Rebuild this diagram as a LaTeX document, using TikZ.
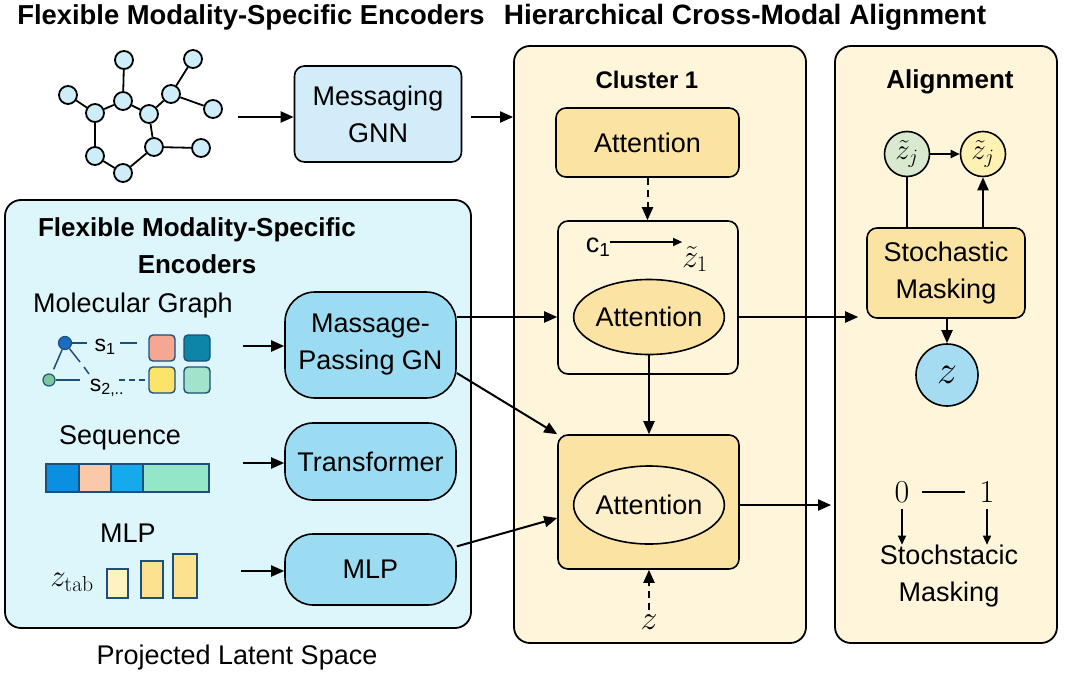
\RequirePackage{fix-cm}
\documentclass[tikz,border=0pt]{standalone}
\usepackage[no-math]{fontspec}
\setmainfont{Liberation Sans}
\usetikzlibrary{arrows.meta,shapes.geometric,calc}
\definecolor{panelblue}{HTML}{DCF6FB}
\definecolor{gnnblue}{HTML}{D2ECFA}
\definecolor{encblue}{HTML}{9CDCF2}
\definecolor{cream}{HTML}{FEF5DA}
\definecolor{attn}{HTML}{FBE3A4}
\definecolor{attnlight}{HTML}{FDEFC9}
\definecolor{molnode}{HTML}{CDEEF8}
\definecolor{navy}{HTML}{1D4F7A}
\definecolor{greencirc}{HTML}{D8E9D0}
\definecolor{yellowcirc}{HTML}{FEF1B4}
\definecolor{zblue}{HTML}{A6DCF1}
\definecolor{sqpink}{HTML}{F6A792}
\definecolor{sqteal}{HTML}{0C85A8}
\definecolor{sqyellow}{HTML}{FCE46A}
\definecolor{sqmint}{HTML}{A2E3CB}
\definecolor{seqA}{HTML}{0B8FE0}
\definecolor{seqB}{HTML}{F9C9A9}
\definecolor{seqC}{HTML}{14AAEB}
\definecolor{seqD}{HTML}{94E6C9}
\definecolor{barA}{HTML}{FEF2C2}
\definecolor{barB}{HTML}{FCE290}
\definecolor{nodeblue}{HTML}{1C6CC2}
\definecolor{nodegreen}{HTML}{7FC6A0}
\newcommand\myfont{\fontsize{27}{37}\selectfont}
\newcommand\mytitle{\fontsize{28}{34}\selectfont\bfseries}
\tikzset{
  panel/.style={draw=black, line width=1.8pt, rounded corners=16pt, inner sep=0pt},
  rbox/.style={draw=black, line width=1.6pt, rounded corners=10pt, inner sep=0pt, align=center, font=\myfont},
  pill/.style={draw=black, line width=1.6pt, rounded corners=28pt, fill=encblue, inner sep=0pt, align=center, font=\myfont},
  arr/.style={-{Triangle[length=13pt,width=11pt]}, line width=2pt},
  smallarr/.style={-{Triangle[length=9pt,width=8pt]}, line width=1.4pt},
  dsh/.style={dash pattern=on 7pt off 5pt},
  mnode/.style={circle, draw=black, line width=1.8pt, fill=molnode, minimum size=18pt, inner sep=0pt},
  medge/.style={line width=1.8pt},
  txt/.style={inner sep=0pt, align=center, font=\myfont},
  sq/.style={draw=navy, line width=1.4pt, rounded corners=4pt, minimum size=26pt, inner sep=0pt},
  seg/.style={draw=navy, line width=1.3pt},
  ell/.style={ellipse, draw=black, line width=1.6pt, inner sep=0pt, font=\myfont},
}
\begin{document}
\begin{tikzpicture}[x=1pt,y=-1pt]
\useasboundingbox (0,0) rectangle (1065,680);
\fill[white] (0,0) rectangle (1065,680);

% titles
\node[txt, font=\fontsize{27.4}{34}\selectfont\bfseries] (title1) at (251,17) {Flexible Modality-Specific Encoders};
\node[txt, font=\mytitle] (title2) at (745,17) {Hierarchical Cross-Modal Alignment};

% molecule graph
\node[mnode] (m1) at (124,60) {};
\node[mnode] (m2) at (193,59) {};
\node[mnode] (m3) at (68,95) {};
\node[mnode] (m4) at (123,101) {};
\node[mnode] (m5) at (95,113) {};
\node[mnode] (m6) at (149,114) {};
\node[mnode] (m7) at (171,94) {};
\node[mnode] (m8) at (213,109) {};
\node[mnode] (m9) at (95,156) {};
\node[mnode] (m10) at (154,147) {};
\node[mnode] (m11) at (201,148) {};
\node[mnode] (m12) at (123,173) {};
\foreach \a/\b in {m1/m4,m4/m5,m5/m3,m4/m6,m6/m7,m7/m2,m7/m8,m6/m10,m10/m11,m10/m12,m12/m9,m9/m5}
  \draw[medge] (\a) -- (\b);

% messaging GNN
\node[rbox, fill=gnnblue, minimum width=167pt, minimum height=96pt] (gnn) at (378,114) {Messaging\\GNN};
\coordinate (gstart) at (238,117);
\draw[arr] (gstart) -- (gstart -| gnn.west);

% panels
\node[panel, fill=panelblue, minimum width=466pt, minimum height=428pt] (left) at (238,414) {};
\node[panel, fill=cream, minimum width=292pt, minimum height=597pt] (cluster) at (660,344.5) {};
\node[panel, fill=cream, minimum width=222pt, minimum height=597pt] (align) at (946,344.5) {};

\draw[arr, shorten <=9pt] (gnn.east |- gstart) -- (gstart -| cluster.west);

% left panel contents
\node[txt, font=\fontsize{26}{37}\selectfont\bfseries] (lt) at (197,246) {Flexible Modality-Specific\\Encoders};
\node[txt] (molg) at (133,306) {Molecular Graph};
\node[txt] (seql) at (120,438) {Sequence};
\node[txt] (mlpl) at (128,533) {MLP};
\node[txt] (proj) at (237,658) {Projected Latent Space};

% small graph
\node[circle, draw=navy, line width=1.2pt, fill=nodeblue, minimum size=13pt, inner sep=0pt] (bn) at (65,343) {};
\node[circle, draw=navy!80!teal, line width=1.2pt, fill=nodegreen, minimum size=12pt, inner sep=0pt] (gn) at (49,380) {};
\node[txt, font=\fontsize{23}{26}\selectfont] (s1) at (105,347) {s\textsubscript{1}};
\node[txt, font=\fontsize{23}{26}\selectfont] (s2) at (107,388) {s\textsubscript{2,..}};
\node[sq, fill=sqpink] (q1) at (162,348) {};
\node[sq, fill=sqteal] (q2) at (197,348) {};
\node[sq, fill=sqyellow] (q3) at (162,380) {};
\node[sq, fill=sqmint] (q4) at (197,380) {};
\draw[line width=1.5pt, navy] (bn.east) -- ++(15,0);
\draw[line width=1.5pt, navy] (120,343) -- (137,343);
\draw[line width=1.5pt, navy, shorten >=5pt] (bn) -- (gn);
\draw[line width=1.5pt, navy] (bn) -- (80,362);
\draw[line width=1.5pt, navy] (84,367) -- (89,374);
\draw[line width=1.5pt, navy] (gn.east) -- (80,380);
\draw[line width=1.5pt, navy, dash pattern=on 6pt off 4pt] (119,380) -- (q3.west);

% sequence bar
\node[seg, fill=seqA, minimum width=33pt, minimum height=28pt, inner sep=0pt] (sa) at (62.5,478) {};
\node[seg, fill=seqB, minimum width=32pt, minimum height=28pt, inner sep=0pt] (sb) at (95,478) {};
\node[seg, fill=seqC, minimum width=32pt, minimum height=28pt, inner sep=0pt] (sc) at (127,478) {};
\node[seg, fill=seqD, minimum width=66pt, minimum height=28pt, inner sep=0pt] (sd) at (176,478) {};

% bars
\node[txt, font=\fontsize{31}{34}\selectfont] (ztab) at (72,582) {$z_{\mathrm{tab}}$};
\draw[seg, line width=1.5pt, fill=barA] (107,569) rectangle (128,598);
\draw[seg, line width=1.5pt, fill=barB] (141,561) rectangle (163,598);
\draw[seg, line width=1.5pt, fill=barB] (173,554) rectangle (197,598);

% encoders
\node[pill, minimum width=171pt, minimum height=106pt, rounded corners=30pt] (mpgn) at (370.5,345) {Massage-\\Passing GN};
\node[pill, minimum width=171pt, minimum height=77pt] (trans) at (370.5,461.5) {Transformer};
\node[pill, minimum width=171pt, minimum height=71pt] (mlp) at (370.5,569.5) {MLP};
\coordinate (a1) at (243,346);
\coordinate (a2) at (243,463);
\coordinate (a3) at (241,571);
\draw[arr] (a1) -- (a1 -| mpgn.west);
\draw[arr] (a2) -- (a2 -| trans.west);
\draw[arr] (a3) -- (a3 -| mlp.west);

% cluster contents
\node[txt, font=\fontsize{24}{28}\selectfont\bfseries] (cl) at (647,80) {Cluster 1};
\node[rbox, fill=attn, minimum width=183pt, minimum height=69pt] (attn1) at (647.5,142.5) {Attention};
\node[rbox, fill=cream, minimum width=180pt, minimum height=153pt] (midbox) at (648,297.5) {};
\node[ell, fill=attn, minimum width=138pt, minimum height=75pt] (ell1) at (649,317) {Attention};
\node[txt, font=\fontsize{27}{30}\selectfont] (c1) at (598,247) {c\textsubscript{1}};
\node[txt, font=\fontsize{32}{34}\selectfont] (zt1) at (695,259) {$\tilde{z}_1$};
\draw[smallarr, line width=1.3pt] ([yshift=5pt]c1.east) -- ([yshift=5pt]c1.east -| zt1.west);
\node[rbox, fill=attn, minimum width=181pt, minimum height=134pt] (botbox) at (648.5,502) {};
\node[ell, fill=attnlight, minimum width=141pt, minimum height=78pt] (ell2) at (649,505) {Attention};
\node[txt, font=\fontsize{34}{38}\selectfont] (zb) at (649,622) {$z$};

\draw[arr, dsh] (attn1.south) -- (attn1.south |- midbox.north);
\draw[arr] (ell1.south) -- (ell1.south |- botbox.north);
\draw[arr, dsh, shorten <=4pt] (zb.north) -- (zb.north |- botbox.south);
\draw[arr] (mpgn.east |- ell1) -- (midbox.west |- ell1);
\draw[arr] (mpgn.-18) -- (botbox.north west);
\draw[arr] (mlp.15) -- ([yshift=-16pt]botbox.west);

% alignment contents
\node[txt, font=\fontsize{26}{30}\selectfont\bfseries] (al) at (950,82) {Alignment};
\node[circle, draw=black, line width=1.6pt, fill=greencirc, minimum size=45pt, inner sep=0pt, font=\fontsize{29}{32}\selectfont] (zj1) at (907,154) {$\tilde{z}_j$};
\node[circle, draw=black, line width=1.6pt, fill=yellowcirc, minimum size=45pt, inner sep=0pt, font=\fontsize{29}{32}\selectfont] (zj2) at (983,154) {$\tilde{z}_j$};
\node[rbox, fill=attn, minimum width=158pt, minimum height=90pt] (stoch) at (946,273) {Stochastic\\Masking};
\node[circle, draw=black, line width=1.6pt, fill=zblue, minimum size=62pt, inner sep=0pt, font=\fontsize{40}{44}\selectfont] (zc) at (947,375) {$z$};
\draw[smallarr, line width=1.8pt] (zj1) -- (zj2);
\draw[line width=1.8pt] (zj1.south) -- (zj1.south |- stoch.north);
\draw[arr] (zj2.south |- stoch.north) -- (zj2.south);
\draw[arr] (stoch.south -| zc) -- (zc.north);
\draw[arr, shorten >=8pt] (midbox.east |- ell1) -- (stoch.west |- ell1);
\draw[arr, shorten >=3pt] (botbox.east |- ell2) -- (align.west |- ell2);

\node[txt, font=\fontsize{32}{36}\selectfont] (n0) at (902,492) {$0$};
\node[txt, font=\fontsize{32}{36}\selectfont] (n1) at (987,492) {$1$};
\draw[line width=1.3pt, shorten <=12pt, shorten >=14pt] (n0) -- (n1);
\node[txt] (ssm) at (949,576) {Stochstacic\\Masking};
\draw[smallarr] ([yshift=-6pt]n0.south) -- (n0.south |- ssm.north);
\draw[smallarr] ([yshift=-6pt]n1.south) -- (n1.south |- ssm.north);
\end{tikzpicture}
\end{document}
